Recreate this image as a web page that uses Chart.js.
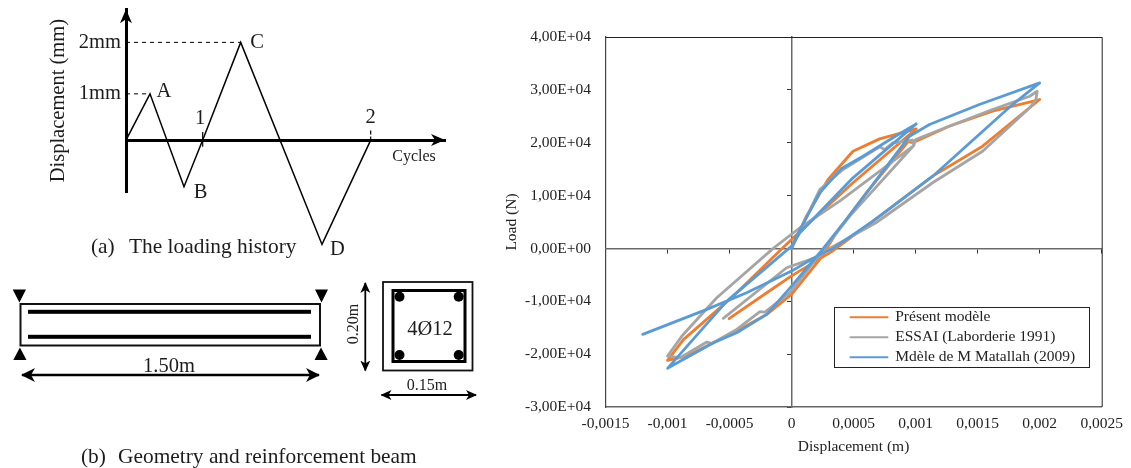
<!DOCTYPE html>
<html>
<head>
<meta charset="utf-8">
<title>Loading history and load-displacement curves</title>
<script src="https://cdn.jsdelivr.net/npm/chart.js@4"></script>
<style>
    html, body { margin: 0; padding: 0; background: #fff; width: 1131px; height: 468px; overflow: hidden; }
    canvas, svg { position: absolute; left: 0; top: 0; }
    #historyChart { top: -8px; }
    .cap { position: absolute; font: 21.4px "Liberation Serif", serif; color: #1c1c1c; white-space: pre; line-height: 24px; }
    svg text { font-family: "Liberation Serif", serif; fill: #1c1c1c; text-anchor: middle; }
</style>
</head>
<body>
<canvas id="loadChart" width="1131" height="468"></canvas>
<canvas id="historyChart" width="470" height="270"></canvas>
<div class="cap" style="left:91px;top:234px">(a)</div>
<div class="cap" style="left:129px;top:234px">The loading history</div>
<div class="cap" style="left:81px;top:444px">(b)</div>
<div class="cap" style="left:118px;top:444px">Geometry and reinforcement beam</div>

<!-- beam sketch, not data -->
<svg width="490" height="468" viewBox="0 0 490 468">
    <defs>
        <marker id="head" markerWidth="14" markerHeight="14" refX="13" refY="7" orient="auto-start-reverse" markerUnits="userSpaceOnUse">
            <path d="M0 0 L14 7 L0 14 L4 7 Z" fill="#000"></path>
        </marker>
        <marker id="headSmall" markerWidth="11" markerHeight="10" refX="10" refY="5" orient="auto-start-reverse" markerUnits="userSpaceOnUse">
            <path d="M0 0 L11 5 L0 10 L3 5 Z" fill="#000"></path>
        </marker>
    </defs>
    <rect x="20.5" y="304" width="299.5" height="41.5" fill="none" stroke="#111" stroke-width="2"></rect>
    <rect x="28" y="309.8" width="283" height="4" fill="#000"></rect>
    <rect x="28" y="334.8" width="283" height="4" fill="#000"></rect>
    <path d="M12.7 289.5 H26 L19.4 302.5 Z M315 289.5 H328 L321.5 302.5 Z M13.3 360 H26.5 L19.9 347.5 Z M314.5 360 H327.7 L321 347.5 Z" fill="#000"></path>
    <line x1="22" y1="375" x2="319" y2="375" stroke="#000" stroke-width="2.6" marker-start="url(#head)" marker-end="url(#head)"></line>
    <text x="169" y="372" font-size="20.5">1.50m</text>
    <rect x="383" y="282" width="89.5" height="88.5" fill="none" stroke="#111" stroke-width="1.8"></rect>
    <rect x="393" y="290.5" width="72" height="71" fill="none" stroke="#000" stroke-width="3"></rect>
    <circle cx="399.5" cy="296.7" r="5" fill="#000"></circle>
    <circle cx="458.7" cy="296.7" r="5" fill="#000"></circle>
    <circle cx="399.5" cy="355" r="5" fill="#000"></circle>
    <circle cx="458.7" cy="355" r="5" fill="#000"></circle>
    <text x="430" y="335" font-size="20.5">4Ø12</text>
    <line x1="365.3" y1="283" x2="365.3" y2="370.5" stroke="#000" stroke-width="1.8" marker-start="url(#headSmall)" marker-end="url(#headSmall)"></line>
    <text x="0" y="0" font-size="16" transform="translate(358 324) rotate(-90)">0.20m</text>
    <line x1="381.5" y1="395" x2="476" y2="395" stroke="#000" stroke-width="1.8" marker-start="url(#headSmall)" marker-end="url(#headSmall)"></line>
    <text x="427" y="390" font-size="16">0.15m</text>
</svg>

<script>
// Load-displacement curves
const xTickLabels = ["-0,0015", "-0,001", "-0,0005", "0", "0,0005", "0,001", "0,0015", "0,002", "0,0025"];
const yTickLabels = ["-3,00E+04", "-2,00E+04", "-1,00E+04", "0,00E+00", "1,00E+04", "2,00E+04", "3,00E+04", "4,00E+04"];

const modelX = [0, 0.00012, 0.000294, 0.000495, 0.00071, 0.001005, 0.000495, 0.00004, -0.00007, -0.000469, -0.00087, -0.001, -0.000844, -0.00063, -0.000442, -0.0002, 0, 0.000227, 0.000362, 0.000603, 0.00094, 0.000977, 0.00127, 0.00162, 0.002, 0.00154, 0.001138, 0.00071, 0.000323, 0, -0.0002, -0.000504];
const modelY = [0, 6110, 13040, 18390, 20730, 22620, 12420, 2600, 130, -9020, -17200, -21170, -20360, -17830, -15630, -12480, -8690, -2080, 2960, 10530, 20200, 20000, 23120, 25960, 28170, 19340, 13670, 6110, -600, -5200, -8380, -13290];

const testX = [0, 0.000227, 0.000415, 0.00071, 0.00075, 0.000817, 0.000977, 0.000985, 0.000388, 0.000067, -0.000148, -0.000603, -0.000884, -0.001, -0.000898, -0.000683, -0.000643, -0.000442, -0.000255, -0.000215, -0.000014, 0.000227, 0.000469, 0.000985, 0.001, 0.00127, 0.00162, 0.00192, 0.00198, 0.00197, 0.00192, 0.00154, 0.00114, 0.00068, 0.000307, 0.000227, -0.00004, -0.00055];
const testY = [0, 11150, 14930, 19220, 18710, 19980, 20470, 19470, 8940, 3910, 0, -9320, -16580, -20360, -20670, -17710, -17960, -15310, -11970, -12040, -8380, -1134, 6110, 19470, 20600, 23120, 26280, 28790, 29730, 28170, 26600, 18390, 12470, 4860, 0, -1450, -3650, -13230];

const matallahX = [0, 0.00004, 0.000227, 0.0004, 0.000576, 0.000817, 0.001005, 0.000495, 0.000067, 0, -0.000522, -0.001, -0.00063, -0.000442, -0.0002, 0, 0.000227, 0.000442, 0.000951, 0.001112, 0.001514, 0.002, 0.001781, 0.001138, 0.000656, 0.000334, 0.000227, 0, -0.000362, -0.000683, -0.0012];
const matallahY = [0, 2330, 10530, 15060, 17450, 20930, 23570, 13360, 2960, 430, -9960, -22680, -17830, -15940, -12480, -7130, -820, 5480, 21230, 23440, 27220, 31320, 27220, 13670, 5160, 0, -1134, -4290, -8380, -11530, -16257];

const seriesNames = ["Présent modèle", "ESSAI (Laborderie 1991)", "Mdèle de M Matallah (2009)"];

// Loading history sketch: time steps on x, displacement in mm on y
const historyTime = [0, 24, 58, 76.7, 114.7, 196, 244.7];
const historyDisp = [0, 0.97, -0.98, 0, 2.05, -2.19, 0];
const historyYTicks = [0.97, 2.05];
const historyYLabels = ["1mm", "2mm"];
const noteText = ["A", "B", "C", "D", "1", "2"];
const noteX = [38, 74.5, 131, 211.5, 74, 244.7];
const noteY = [1.01, -1.11, 2.04, -2.3, 0.45, 0.47];

const SERIF = "'Liberation Serif', serif";

function toPoints(xs, ys) {
    return xs.map(function (x, i) {
        return { x: x, y: ys[i] };
    });
}

function curve(label, xs, ys, color, order) {
    return {
        label: label,
        data: toPoints(xs, ys),
        borderColor: color,
        backgroundColor: color,
        borderWidth: 2.8,
        pointRadius: 0,
        showLine: true,
        tension: 0,
        borderJoinStyle: "round",
        borderCapStyle: "round",
        order: order,
    };
}

// Frame round the plot and box round the legend
const framePlugin = {
    id: "frame",
    afterLayout: function (chart) {
        const legend = chart.legend;
        legend.left = 846;
        legend.right = 1089;
        legend.top = 305;
        legend.bottom = 370;
    },
    afterDraw: function (chart) {
        const ctx = chart.ctx;
        const a = chart.chartArea;
        ctx.save();
        ctx.strokeStyle = "#222";
        ctx.lineWidth = 1;
        ctx.beginPath();
        ctx.moveTo(a.left, a.top + 0.5);
        ctx.lineTo(a.right + 0.5, a.top + 0.5);
        ctx.lineTo(a.right + 0.5, a.bottom);
        ctx.stroke();
        ctx.strokeRect(834.5, 307.5, 255, 60);
        ctx.restore();
    },
};

new Chart(document.getElementById("loadChart"), {
    type: "scatter",
    data: {
        datasets: [
            curve(seriesNames[0], modelX, modelY, "#ED7D31", 3),
            curve(seriesNames[1], testX, testY, "#A5A5A5", 2),
            curve(seriesNames[2], matallahX, matallahY, "#5B9BD5", 1),
        ],
    },
    options: {
        responsive: false,
        animation: false,
        layout: { autoPadding: false, padding: { left: 503, right: 26.5, top: 37, bottom: 12 } },
        font: { family: SERIF },
        plugins: {
            title: { display: false },
            tooltip: { enabled: false },
            legend: {
                position: "chartArea",
                align: "start",
                labels: {
                    boxWidth: 37,
                    boxHeight: 0,
                    padding: 4.5,
                    color: "#222",
                    font: { family: SERIF, size: 15.5 },
                    generateLabels: function (chart) {
                        const items = Chart.defaults.plugins.legend.labels.generateLabels(chart);
                        items.forEach(function (item) {
                            item.lineWidth = 2;
                        });
                        return items;
                    },
                    sort: function (a, b) {
                        return a.datasetIndex - b.datasetIndex;
                    },
                },
            },
        },
        scales: {
            x: {
                type: "linear",
                position: "bottom",
                min: -0.0015,
                max: 0.0025,
                afterFit: function (scale) {
                    scale.height = 49;
                },
                grid: { drawOnChartArea: false, drawTicks: false },
                border: { color: "#666", width: 1.5 },
                ticks: {
                    stepSize: 0.0005,
                    padding: 8,
                    autoSkip: false,
                    maxRotation: 0,
                    color: "#222",
                    font: { family: SERIF, size: 15.5 },
                    callback: function (value, index) {
                        return xTickLabels[index];
                    },
                },
                title: {
                    display: true,
                    text: "Displacement (m)",
                    color: "#222",
                    padding: 0,
                    font: { family: SERIF, size: 15.5 },
                },
            },
            y: {
                type: "linear",
                position: "left",
                min: -30000,
                max: 40000,
                afterFit: function (scale) {
                    scale.width = 102.5;
                },
                grid: { drawOnChartArea: false, drawTicks: false },
                border: { color: "#444", width: 1.2 },
                ticks: {
                    stepSize: 10000,
                    padding: 14.5,
                    autoSkip: false,
                    color: "#222",
                    font: { family: SERIF, size: 15.5 },
                    callback: function (value, index) {
                        return yTickLabels[index];
                    },
                },
                title: {
                    display: true,
                    text: "Load (N)",
                    color: "#222",
                    padding: 0,
                    font: { family: SERIF, size: 15.5 },
                },
            },
            // axes through zero, tick marks only
            xZero: {
                type: "linear",
                axis: "x",
                position: { y: 0 },
                min: -0.0015,
                max: 0.0025,
                grid: { drawOnChartArea: false, tickLength: 4, tickColor: "#333" },
                border: { color: "#6a6a6a", width: 1.5 },
                ticks: { display: false, stepSize: 0.0005 },
            },
            yZero: {
                type: "linear",
                axis: "y",
                position: { x: 0 },
                min: -30000,
                max: 40000,
                grid: { drawOnChartArea: false, tickLength: 4, tickColor: "#333" },
                border: { color: "#6a6a6a", width: 1.5 },
                ticks: { display: false, stepSize: 10000 },
            },
        },
    },
    plugins: [framePlugin],
});

// Arrow heads on the history axes and the letters beside the peaks
const historyPlugin = {
    id: "historyMarks",
    afterDraw: function (chart) {
        const ctx = chart.ctx;
        const a = chart.chartArea;
        const zeroY = chart.scales.y.getPixelForValue(0);
        ctx.save();
        ctx.fillStyle = "#000";
        ctx.beginPath();
        ctx.moveTo(a.right, zeroY);
        ctx.lineTo(a.right - 14, zeroY - 6);
        ctx.lineTo(a.right - 10, zeroY);
        ctx.lineTo(a.right - 14, zeroY + 6);
        ctx.fill();
        ctx.beginPath();
        ctx.moveTo(a.left, a.top);
        ctx.lineTo(a.left - 6, a.top + 14);
        ctx.lineTo(a.left, a.top + 10);
        ctx.lineTo(a.left + 6, a.top + 14);
        ctx.fill();

        ctx.fillStyle = "#1c1c1c";
        ctx.textAlign = "center";
        ctx.textBaseline = "middle";
        ctx.font = "20.5px " + SERIF;
        noteText.forEach(function (text, i) {
            ctx.fillText(text, chart.scales.x.getPixelForValue(noteX[i]), chart.scales.y.getPixelForValue(noteY[i]));
        });
        ctx.font = "16px " + SERIF;
        ctx.fillText("Cycles", chart.scales.x.getPixelForValue(288), chart.scales.y.getPixelForValue(-0.36));
        ctx.restore();
    },
};

function helper(xs, ys, dash, width) {
    return {
        data: toPoints(xs, ys),
        borderColor: "#000",
        borderWidth: width,
        borderDash: dash,
        pointRadius: 0,
        showLine: true,
        clip: false,
    };
}

new Chart(document.getElementById("historyChart"), {
    type: "scatter",
    data: {
        datasets: [
            helper(historyTime, historyDisp, [], 1.5),
            helper([0, historyTime[1]], [historyDisp[1], historyDisp[1]], [4, 4], 1),
            helper([0, historyTime[4]], [historyDisp[4], historyDisp[4]], [4, 4], 1),
            helper([historyTime[3], historyTime[3]], [0.17, -0.14], [], 1.2),
            helper([historyTime[6], historyTime[6]], [0.2, 0], [4, 2], 1.2),
        ],
    },
    options: {
        responsive: false,
        animation: false,
        layout: { autoPadding: false, padding: { left: 46, right: 25, top: 0, bottom: 70 } },
        plugins: {
            legend: { display: false },
            tooltip: { enabled: false },
        },
        scales: {
            x: {
                type: "linear",
                position: { y: 0 },
                min: 0,
                max: 319,
                grid: { drawOnChartArea: false, drawTicks: false },
                border: { color: "#000", width: 3 },
                ticks: { display: false },
            },
            y: {
                type: "linear",
                position: "left",
                min: -1.09,
                max: 2.744,
                afterFit: function (scale) {
                    scale.width = 80;
                },
                afterBuildTicks: function (scale) {
                    scale.ticks = historyYTicks.map(function (v) {
                        return { value: v };
                    });
                },
                grid: { drawOnChartArea: false, drawTicks: false },
                border: { color: "#000", width: 3 },
                ticks: {
                    padding: 5,
                    color: "#1c1c1c",
                    font: { family: SERIF, size: 20.5 },
                    callback: function (value, index) {
                        return historyYLabels[index];
                    },
                },
                title: {
                    display: true,
                    text: "Displacement (mm)",
                    color: "#1c1c1c",
                    padding: 0,
                    font: { family: SERIF, size: 20.5 },
                },
            },
        },
    },
    plugins: [historyPlugin],
});
</script>
</body>
</html>
